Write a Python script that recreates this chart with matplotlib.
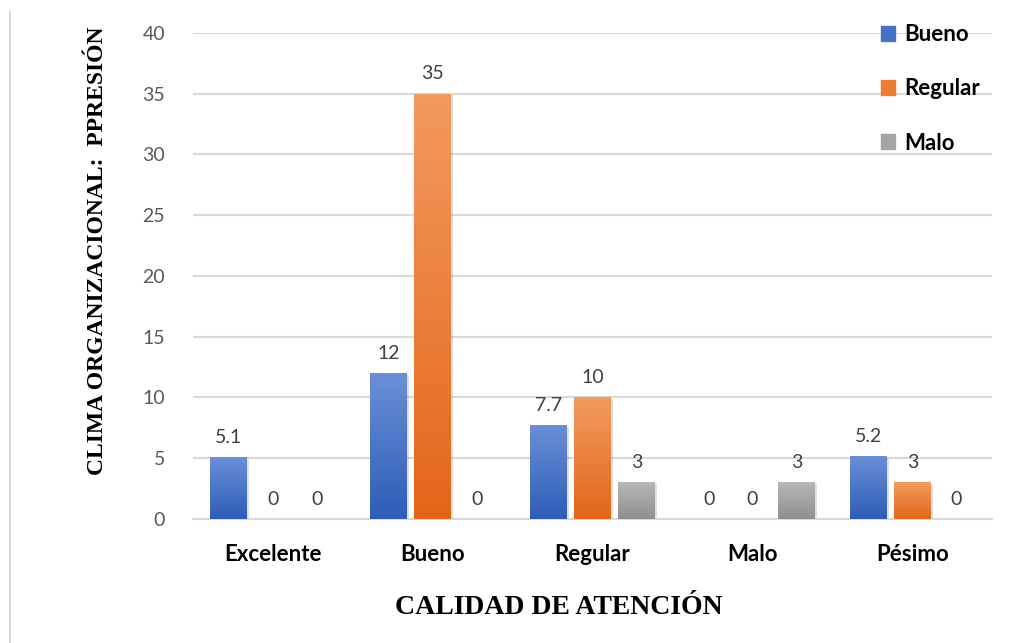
import numpy as np
import matplotlib
matplotlib.use("Agg")
import matplotlib.pyplot as plt
from matplotlib.colors import LinearSegmentedColormap
from matplotlib.lines import Line2D

categories = ["Excelente", "Bueno", "Regular", "Malo", "Pésimo"]
series = ["Bueno", "Regular", "Malo"]
bueno = [5.1, 12, 7.7, 0, 5.2]
regular = [0, 35, 10, 0, 3]
malo = [0, 0, 3, 3, 0]
values = [bueno, regular, malo]

# light top -> dark bottom, like the office gradient fill
grads = [("#6a8fd6", "#2e5db8"), ("#f39a5e", "#e2661a"), ("#b8b8b8", "#8e8e8e")]
solid = ["#4472c4", "#ed7d31", "#a5a5a5"]

fig = plt.figure(figsize=(10.2, 6.43), dpi=100)
ax = fig.add_axes([0.189, 0.193, 0.784, 0.756])

x = np.arange(len(categories))
w = 0.23
step = 0.275
for i, (vals, name) in enumerate(zip(values, series)):
    pos = x + (i - 1) * step
    bars = ax.bar(pos, vals, w, color=solid[i], label=name, zorder=3,
                  linewidth=0)
    cmap = LinearSegmentedColormap.from_list("g%d" % i, [grads[i][1], grads[i][0]])
    for b, v in zip(bars, vals):
        if v <= 0:
            continue
        b.set_facecolor("none")
        # soft shadow
        ax.bar(b.get_x() + b.get_width() / 2 + 0.012, v, w, bottom=-0.15,
               color="#000000", alpha=0.12, zorder=2, linewidth=0)
        im = ax.imshow(np.linspace(0, 1, 100).reshape(-1, 1), cmap=cmap,
                       origin="lower", aspect="auto", zorder=3,
                       extent=[b.get_x(), b.get_x() + b.get_width(), 0, v])
        im.set_clip_path(b)
    for p, v in zip(pos, vals):
        ax.annotate(f"{v:g}", (p, v), xytext=(0, 8), textcoords="offset points",
                    ha="center", va="bottom", fontsize=14, color="#404040",
                    family="Lato")

ax.set_xlim(-0.5, 4.5)
ax.set_ylim(0, 40)
ax.set_yticks(range(0, 41, 5))
ax.set_xticks(x)
ax.set_xticklabels(categories, fontsize=16, fontweight="bold", family="Lato")
ax.tick_params(axis="y", labelsize=14, labelcolor="#595959", length=0, pad=20)
ax.tick_params(axis="x", length=0, pad=18)
for lab in ax.get_yticklabels():
    lab.set_family("Lato")
ax.grid(axis="y", color="#d9d9d9", linewidth=1.5, zorder=0)
ax.set_axisbelow(True)
for s in ["top", "right", "left"]:
    ax.spines[s].set_visible(False)
ax.spines["bottom"].set_color("#d9d9d9")
ax.spines["bottom"].set_linewidth(1.5)

fig.text(0.548, 0.055, "CALIDAD DE ATENCIÓN", ha="center", va="center",
         fontsize=20, fontweight="bold", family="Liberation Serif")
fig.text(0.096, 0.61, "CLIMA ORGANIZACIONAL:  PPRESIÓN", ha="center",
         va="center", rotation=90, fontsize=17, fontweight="bold",
         family="Liberation Serif")

handles = [plt.Rectangle((0, 0), 1, 1, color=c) for c in solid]
leg = fig.legend(handles, series, loc="upper left",
                 bbox_to_anchor=(861 / 1020, 1 - 4 / 643), frameon=False,
                 prop={"family": "Lato", "weight": "bold", "size": 16},
                 handlelength=0.65, handleheight=0.65, handletextpad=0.4,
                 labelspacing=1.5)

fig.add_artist(Line2D([10 / 1020, 10 / 1020], [0, 1 - 12 / 643],
                      color="#d9d9d9", linewidth=1.5))

fig.savefig("out.png", dpi=100)
